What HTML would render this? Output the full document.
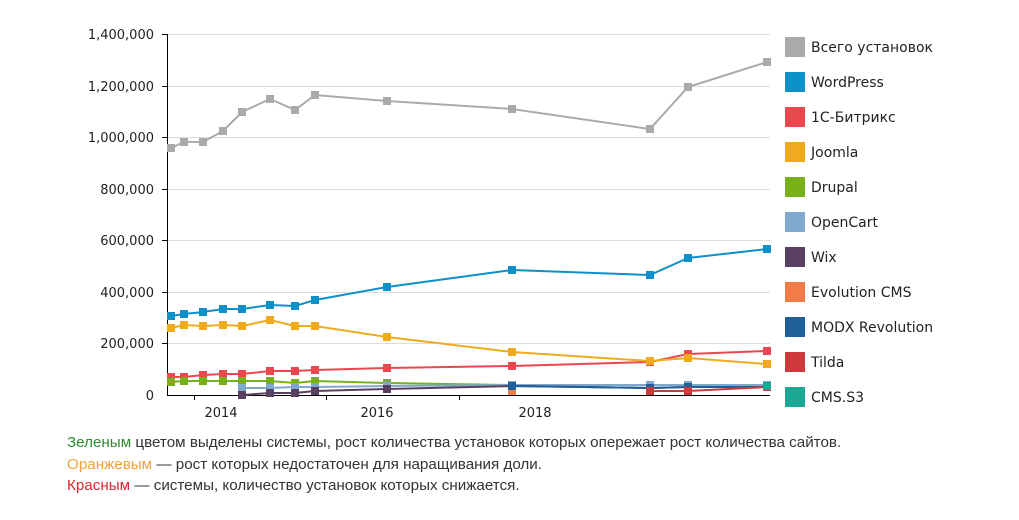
<!DOCTYPE html>
<html><head><meta charset="utf-8"><style>
body{margin:0;background:#fff;width:1019px;height:520px;overflow:hidden;font-family:"Liberation Sans","DejaVu Sans",sans-serif}
svg{position:absolute;left:0;top:0}
.note{position:absolute;left:67px;font-size:15.2px;color:#333;white-space:nowrap}
</style></head><body>
<svg id="s" width="1019" height="520" xmlns="http://www.w3.org/2000/svg" font-family="Verdana, 'DejaVu Sans', sans-serif">
<g stroke="#ddd" stroke-width="1">
<line x1="167" x2="770" y1="34.5" y2="34.5"/><line x1="167" x2="770" y1="86.5" y2="86.5"/>
<line x1="167" x2="770" y1="137.5" y2="137.5"/><line x1="167" x2="770" y1="189.5" y2="189.5"/>
<line x1="167" x2="770" y1="240.5" y2="240.5"/><line x1="167" x2="770" y1="292.5" y2="292.5"/>
<line x1="167" x2="770" y1="343.5" y2="343.5"/>
</g>
<g stroke="#000" stroke-width="1">
<line x1="167.5" x2="167.5" y1="34" y2="395"/><line x1="167" x2="770" y1="395.5" y2="395.5"/>
<line x1="162" x2="167" y1="34.5" y2="34.5"/><line x1="162" x2="167" y1="86.5" y2="86.5"/>
<line x1="162" x2="167" y1="137.5" y2="137.5"/><line x1="162" x2="167" y1="189.5" y2="189.5"/>
<line x1="162" x2="167" y1="240.5" y2="240.5"/><line x1="162" x2="167" y1="292.5" y2="292.5"/>
<line x1="162" x2="167" y1="343.5" y2="343.5"/>
<line x1="194.5" x2="194.5" y1="395" y2="400"/><line x1="326.5" x2="326.5" y1="395" y2="400"/><line x1="459.5" x2="459.5" y1="395" y2="400"/>
</g>
<g font-size="13" fill="#222" text-anchor="end">
<text x="154" y="39">1,400,000</text><text x="154" y="91">1,200,000</text><text x="154" y="142">1,000,000</text>
<text x="154" y="194">800,000</text><text x="154" y="245">600,000</text><text x="154" y="297">400,000</text>
<text x="154" y="348">200,000</text><text x="154" y="400">0</text>
</g>
<g font-size="13" fill="#222" text-anchor="middle">
<text x="221" y="417">2014</text><text x="377" y="417">2016</text><text x="535" y="417">2018</text>
</g>
<g id="series"></g>
<g id="legend" font-size="14" fill="#222"></g>
</svg>
<div class="note" style="top:434px"><span style="color:#2e8b2e">Зеленым</span> цветом выделены системы, рост количества установок которых опережает рост количества сайтов.</div>
<div class="note" style="top:456px"><span style="color:#f0a03c">Оранжевым</span> — рост которых недостаточен для наращивания доли.</div>
<div class="note" style="top:477px"><span style="color:#d8262f">Красным</span> — системы, количество установок которых снижается.</div>
<script>
var X=[171,184,203,223,242,270,295,315,387,512,650,688,767];
var S=[
["Всего установок","#aaaaaa",0,[148,142,142,131,112,99,110,95,101,109,129,87,62]],
["WordPress","#0e90c8",0,[316,314,312,309,309,305,306,300,287,270,275,258,249]],
["1С-Битрикс","#e8484e",0,[377,377,375,374,374,371,371,370,368,366,362,354,351]],
["Joomla","#efaa1e",0,[328,325,326,325,326,320,326,326,337,352,361,358,364]],
["Drupal","#78b01c",0,[382,381,381,381,381,381,383,381,383,385]],
["OpenCart","#7fa8cc",4,[388,388,387,387,386,385,385,385,385]],
["Wix","#5a4060",4,[395,393,393,391,389,386,388,387,387]],
["Evolution CMS","#f07c48",9,[391]],
["MODX Revolution","#1f5f9a",9,[386,388,387,387]],
["Tilda","#cc3a3e",10,[391,391,387]],
["CMS.S3","#1aa894",12,[386]]];
var ns="http://www.w3.org/2000/svg",g=document.getElementById("series"),L=document.getElementById("legend");
function el(t,a,p){var e=document.createElementNS(ns,t);for(var k in a)e.setAttribute(k,a[k]);p.appendChild(e);return e;}
S.forEach(function(s,i){
 var pts=s[3].map(function(y,j){return X[s[2]+j]+","+y}).join(" ");
 if(s[3].length>1)el("polyline",{points:pts,fill:"none",stroke:s[1],"stroke-width":2},g);
 s[3].forEach(function(y,j){el("rect",{x:X[s[2]+j]-4,y:y-4,width:8,height:8,fill:s[1]},g);});
 el("rect",{x:785,y:37+i*35,width:20,height:20,fill:s[1]},L);
 var t=el("text",{x:811,y:52+i*35},L);t.textContent=s[0];
});
</script>
</body></html>
